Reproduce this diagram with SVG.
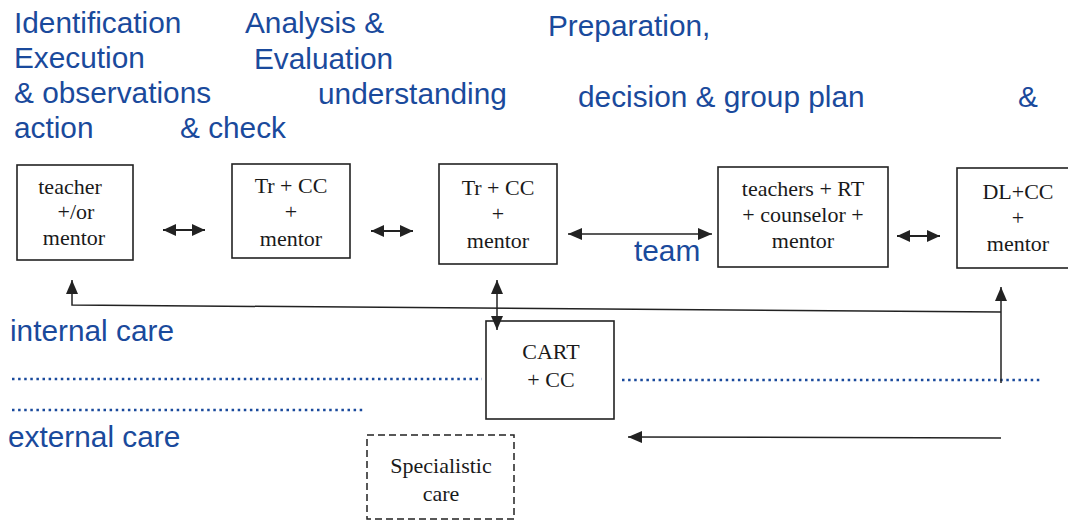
<svg xmlns="http://www.w3.org/2000/svg" width="1068" height="522" viewBox="0 0 1068 522">
<defs>
<style>
.hd{font-family:"Liberation Sans",Arial,sans-serif;font-size:29.8px;fill:#1a4a9c}
.bx{fill:#fff;stroke:#222;stroke-width:1.6}
.tx{font-family:"Liberation Serif","Times New Roman",serif;font-size:22px;fill:#1a1a1a;text-anchor:middle}
.ln{fill:none;stroke:#222;stroke-width:1.5}
.ln2{fill:none;stroke:#222;stroke-width:2}
.dot{fill:none;stroke:#1a4a9c;stroke-width:2.5;stroke-dasharray:2.5 3.6}
</style>
<marker id="ah" viewBox="0 0 13 12" refX="13" refY="6" markerWidth="13" markerHeight="12" markerUnits="userSpaceOnUse" orient="auto-start-reverse">
<path d="M0,0 L13,6 L0,12 Z" fill="#222"/>
</marker>
<marker id="ahb" viewBox="0 0 14 12" refX="14" refY="6" markerWidth="14" markerHeight="12" markerUnits="userSpaceOnUse" orient="auto-start-reverse">
<path d="M0,0 L14,6 L0,12 Z" fill="#222"/>
</marker>
</defs>
<rect width="1068" height="522" fill="#fff"/>

<g id="headers">
<text class="hd" x="14" y="33">Identification</text>
<text class="hd" x="14" y="68">Execution</text>
<text class="hd" x="14" y="103">&amp; observations</text>
<text class="hd" x="14" y="138">action</text>
<text class="hd" x="180" y="138">&amp; check</text>
<text class="hd" x="245" y="33">Analysis &amp;</text>
<text class="hd" x="254" y="69">Evaluation</text>
<text class="hd" x="318" y="104">understanding</text>
<text class="hd" x="548" y="36">Preparation,</text>
<text class="hd" x="578" y="107">decision &amp; group plan</text>
<text class="hd" x="1018" y="107">&amp;</text>
<text class="hd" x="10" y="341">internal care</text>
<text class="hd" x="8" y="447">external care</text>
<text class="hd" x="634" y="261">team</text>
</g>

<g id="separators">
<path class="dot" d="M12,379 H482"/>
<path class="dot" d="M622,380 H1040"/>
<path class="dot" d="M12,410 H365"/>
</g>

<g id="connectors">
<path class="ln2" d="M163,230 H205" marker-start="url(#ah)" marker-end="url(#ah)"/>
<path class="ln2" d="M371,231 H413" marker-start="url(#ah)" marker-end="url(#ah)"/>
<path class="ln" d="M568,234 H712" marker-start="url(#ahb)" marker-end="url(#ahb)"/>
<path class="ln2" d="M897,236 H940" marker-start="url(#ah)" marker-end="url(#ah)"/>
<path class="ln" d="M1001,383 V287" marker-end="url(#ahb)"/>
<path class="ln" d="M1001,312 L72,305 V280" marker-end="url(#ahb)"/>
<path class="ln" d="M497,280 V330" marker-start="url(#ahb)" marker-end="url(#ahb)"/>
<path class="ln" d="M1001,438 L628,437" marker-end="url(#ahb)"/>
</g>

<g id="n1">
<rect class="bx" x="17" y="165" width="116" height="95"/>
<text class="tx" x="70" y="194">teacher</text>
<text class="tx" x="76" y="219">+/or</text>
<text class="tx" x="74" y="245">mentor</text>
</g>
<g id="n2">
<rect class="bx" x="232" y="164" width="118" height="94"/>
<text class="tx" x="291" y="193">Tr + CC</text>
<text class="tx" x="291" y="219">+</text>
<text class="tx" x="291" y="246">mentor</text>
</g>
<g id="n3">
<rect class="bx" x="439" y="164" width="118" height="100"/>
<text class="tx" x="498" y="195">Tr + CC</text>
<text class="tx" x="498" y="221">+</text>
<text class="tx" x="498" y="248">mentor</text>
</g>
<g id="n4">
<rect class="bx" x="718" y="167" width="170" height="100"/>
<text class="tx" x="803" y="196">teachers + RT</text>
<text class="tx" x="803" y="222">+ counselor +</text>
<text class="tx" x="803" y="248">mentor</text>
</g>
<g id="n5">
<rect class="bx" x="957" y="168" width="130" height="100"/>
<text class="tx" x="1018" y="199">DL+CC</text>
<text class="tx" x="1018" y="225">+</text>
<text class="tx" x="1018" y="251">mentor</text>
</g>
<g id="n6">
<rect class="bx" x="486" y="321" width="128" height="98" style="fill:none"/>
<text class="tx" x="551" y="359">CART</text>
<text class="tx" x="551" y="387">+ CC</text>
</g>
<g id="n7">
<rect x="367" y="435" width="147" height="84" fill="#fff" stroke="#222" stroke-width="1.5" stroke-dasharray="7 4"/>
<text class="tx" x="441" y="473">Specialistic</text>
<text class="tx" x="441" y="501">care</text>
</g>
</svg>
